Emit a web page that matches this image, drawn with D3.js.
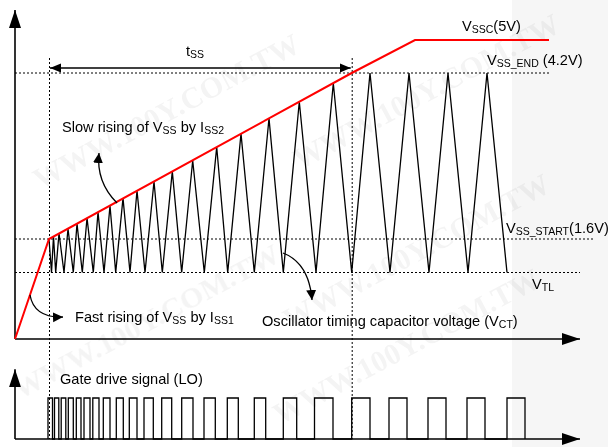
<!DOCTYPE html>
<html>
<head>
<meta charset="utf-8">
<script src="https://cdn.jsdelivr.net/npm/d3@7"></script>
<style>
  body { margin: 0; background: #fff; }
  svg { display: block; font-family: Arial, "Liberation Sans", sans-serif; }
</style>
</head>
<body>
<svg id="chart" width="608" height="447"></svg>
<script>
// time in arbitrary units (0 = origin of the time axis), voltage in volts
const levels = [
  {name: 'VTL', v: 1.0},
  {name: 'VSS_START', v: 1.6},
  {name: 'VSS_END', v: 4.2},
  {name: 'VSSC', v: 5.0}
];

// soft start voltage VSS (red)
const vssTime = [0, 34, 336.7, 400, 534];
const vssVolt = [0, 1.6, 4.2, 5.0, 5.0];

// oscillator timing capacitor voltage VCT (triangle vertices)
const vctTime = [34, 36.5, 38.5, 40.7, 44, 49, 53, 58.3, 62, 67.3, 72, 78.3, 83, 89, 95, 100.7,
                 108, 115, 122, 130, 139, 147.3, 157.3, 166.7, 177.7, 189.3, 201.7, 212.7, 226,
                 239.3, 254, 268.3, 284.3, 301, 318.3, 336.7, 355, 375, 394, 414, 433, 453, 472, 492];
const vctVolt = [1.6, 1.0, 1.64, 1.0, 1.69, 1.0, 1.76, 1.0, 1.84, 1.0, 1.93, 1.0, 2.02, 1.0, 2.12, 1.0,
                 2.24, 1.0, 2.36, 1.0, 2.50, 1.0, 2.66, 1.0, 2.83, 1.0, 3.04, 1.0, 3.25,
                 1.0, 3.49, 1.0, 3.75, 1.0, 4.04, 1.0, 4.2, 1.0, 4.2, 1.0, 4.2, 1.0, 4.2, 1.0];

// gate drive pulses (LO): start / end of each on-time
const gateOn  = [33, 39.5, 46.2, 53.3, 61.3, 69, 77.8, 88.3, 101.3, 114.3, 129, 146.7, 166.7, 189,
                 212.3, 239.3, 268.3, 299.5, 336.7, 374, 413, 452, 492];
const gateOff = [37.5, 43.8, 50.8, 58.3, 66, 75, 84, 95, 108.3, 122, 138.3, 156.7, 178, 200.3,
                 223.3, 250.7, 281.7, 318, 355, 392, 431, 470, 510];

const tssStart = 34, tssEnd = 336.7;
const tEnd = 567, vMax = 5.8, gMax = 1.75;

const svg = d3.select('#chart');

const x = d3.scaleLinear().domain([0, 575]).range([15, 590]);
const y = d3.scaleLinear().domain([0, 1.0, 1.6, 4.2, 5.0, vMax]).range([339, 272.5, 239, 73, 40, 8]);
const yG = d3.scaleLinear().domain([0, 1]).range([439, 398]);

// light grey band on the right and faint watermark
svg.append('rect').attr('x', 512).attr('y', 0).attr('width', 96).attr('height', 447).attr('fill', '#f6f6f6');
const wmSpots = [[40, 190], [300, 170], [20, 400], [290, 330], [280, 425]];
svg.append('g').attr('fill', '#000').attr('opacity', 0.045)
  .style('font-family', '"Liberation Serif", "DejaVu Serif", serif').style('font-weight', 'bold').style('font-size', '30px')
  .selectAll('text').data(wmSpots).join('text')
  .attr('transform', d => `translate(${d[0]},${d[1]}) rotate(-28)`)
  .text('WWW.100Y.COM.TW');

// markers
const defs = svg.append('defs');
function marker(id, len, half) {
  defs.append('marker').attr('id', id)
    .attr('markerUnits', 'userSpaceOnUse').attr('markerWidth', len + 2).attr('markerHeight', half * 2 + 2)
    .attr('viewBox', `0 ${-half - 1} ${len + 2} ${half * 2 + 2}`)
    .attr('refX', len).attr('refY', 0).attr('orient', 'auto-start-reverse')
    .append('path').attr('d', `M0,${-half}L${len},0L0,${half}Z`).attr('fill', '#000');
}
marker('axis', 18, 6);
marker('small', 11, 4.5);
marker('curve', 10, 5);

// dotted reference lines
const dotted = svg.append('g').attr('stroke', '#000').attr('stroke-width', 1).attr('stroke-dasharray', '2,2').attr('fill', 'none');
const levelEnd = {VTL: 565, VSS_START: 580, VSS_END: 534};
levels.filter(d => d.name !== 'VSSC').forEach(d => {
  dotted.append('line').attr('x1', x(0)).attr('x2', x(levelEnd[d.name]))
    .attr('y1', y(d.v)).attr('y2', y(d.v));
});
[tssStart, tssEnd].forEach(t => {
  dotted.append('line').attr('x1', x(t) + 0.5).attr('x2', x(t) + 0.5)
    .attr('y1', y(4.2) - 15).attr('y2', yG(0));
});

// tss arrow
svg.append('line').attr('x1', x(tssStart) + 1).attr('x2', x(tssEnd) - 1)
  .attr('y1', y(4.2) - 5).attr('y2', y(4.2) - 5)
  .attr('stroke', '#000').attr('stroke-width', 1.3)
  .attr('marker-start', 'url(#small)').attr('marker-end', 'url(#small)');

// axes
const axes = svg.append('g').attr('stroke', '#000').attr('stroke-width', 1.6).attr('fill', 'none');
axes.append('line').attr('x1', x(0)).attr('x2', x(0)).attr('y1', y(0)).attr('y2', y(vMax) + 2).attr('marker-end', 'url(#axis)');
axes.append('line').attr('x1', x(0)).attr('x2', x(tEnd) - 2).attr('y1', y(0)).attr('y2', y(0)).attr('marker-end', 'url(#axis)');
axes.append('line').attr('x1', x(0)).attr('x2', x(0)).attr('y1', yG(0)).attr('y2', yG(gMax) + 2).attr('marker-end', 'url(#axis)');
axes.append('line').attr('x1', x(0)).attr('x2', x(tEnd) - 2).attr('y1', yG(0)).attr('y2', yG(0)).attr('marker-end', 'url(#axis)');

// VCT triangle
const vct = vctTime.map((t, i) => [t, vctVolt[i]]);
svg.append('path').datum(vct)
  .attr('d', d3.line().x(d => x(d[0])).y(d => y(d[1])))
  .attr('fill', 'none').attr('stroke', '#000').attr('stroke-width', 1.3).attr('stroke-linejoin', 'miter');

// VSS ramp
const vss = vssTime.map((t, i) => [t, vssVolt[i]]);
svg.append('path').datum(vss)
  .attr('d', d3.line().x(d => x(d[0])).y(d => y(d[1])))
  .attr('fill', 'none').attr('stroke', '#f00').attr('stroke-width', 2);

// gate pulses
const gate = [];
gateOn.forEach((t, i) => {
  gate.push([t, 0], [t, 1], [gateOff[i], 1], [gateOff[i], 0]);
});
svg.append('path').datum(gate)
  .attr('d', d3.line().x(d => x(d[0])).y(d => yG(d[1])))
  .attr('fill', 'none').attr('stroke', '#000').attr('stroke-width', 1.3);

// curved pointer arrows
const curves = [
  'M117,203 Q96,182 99,153',
  'M30,295 Q34,318 63,317',
  'M283,253 Q309,263 312,300'
];
svg.append('g').selectAll('path').data(curves).join('path')
  .attr('d', d => d).attr('fill', 'none').attr('stroke', '#000').attr('stroke-width', 1.3)
  .attr('marker-end', 'url(#curve)');

// labels: parts are [text, isSub]
function label(px, py, parts) {
  const t = svg.append('text').attr('x', px).attr('y', py).style('font-size', '14.6px').attr('fill', '#000');
  let sub = false;
  parts.forEach(p => {
    const s = t.append('tspan').text(p[0]);
    if (p[1] && !sub) { s.attr('dy', 2).style('font-size', '10.5px'); sub = true; }
    else if (p[1]) { s.style('font-size', '10.5px'); }
    else if (sub) { s.attr('dy', -2); sub = false; }
  });
}
label(186, 56, [['t'], ['SS', 1]]);
label(462, 31, [['V'], ['SSC', 1], ['(5V)']]);
label(487, 65, [['V'], ['SS_END', 1], [' (4.2V)']]);
label(506, 233, [['V'], ['SS_START', 1], ['(1.6V)']]);
label(532, 289, [['V'], ['TL', 1]]);
label(62, 132, [['Slow rising of V'], ['SS', 1], [' by I'], ['SS2', 1]]);
label(75, 322, [['Fast rising of V'], ['SS', 1], [' by I'], ['SS1', 1]]);
label(262, 326, [['Oscillator timing capacitor voltage (V'], ['CT', 1], [')']]);
label(60, 384, [['Gate drive signal (LO)']]);
</script>
</body>
</html>
